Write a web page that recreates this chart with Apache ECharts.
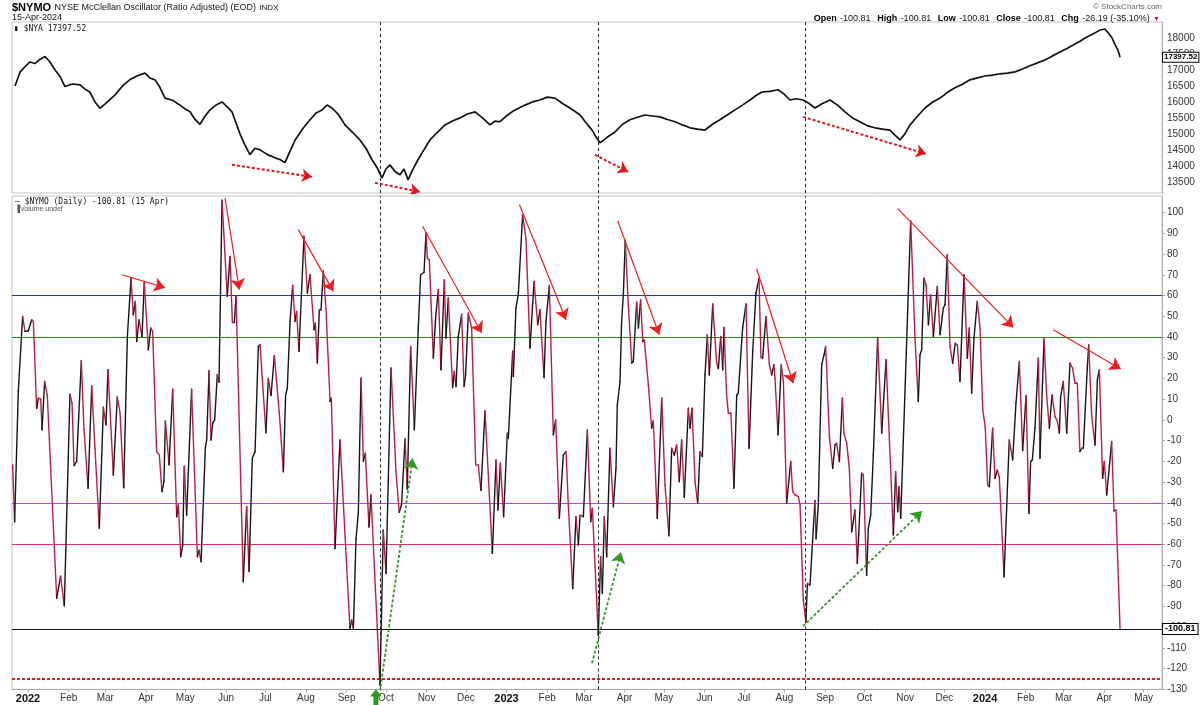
<!DOCTYPE html>
<html><head><meta charset="utf-8">
<script src="https://cdn.jsdelivr.net/npm/echarts/dist/echarts.min.js"></script>
<style>html,body{margin:0;padding:0;background:#fff}#c{width:1200px;height:705px}</style>
</head><body><div id="c"></div>
<script>
// days since 2022-01-01 and NYMO values
const nymoDay = [-11.7,-10.2,-7.4,-4.1,-2.3,0.3,2.8,4.1,6.6,7.9,9.7,10.7,12.7,14.7,21.9,24.9,27.7,32,33.6,35.1,37.1,40.7,42.7,45.8,48.6,51.1,54.4,57.5,59.5,61,65.1,68.1,70.2,73,75.8,78.6,80.3,81.9,82.9,84.7,87,88.7,91.8,93.6,95.1,98.1,100.2,102.2,103.7,104.8,107.6,110.4,113.4,114.7,116.5,118,119.2,121,124.8,129.2,130.4,132,135.3,136.3,138.1,139.6,140.9,142.4,144.4,145.7,148,152,154.1,155.9,157.4,158.7,164.2,166.8,168.6,171.1,173.2,175.7,177,181.5,183.3,185.4,187.9,191.7,194.8,196.5,197.8,199.9,201.9,203.7,204.9,206.7,
210.5,213.1,215.1,218.2,219.2,220.7,222.2,223.5,225.3,227.3,230.4,231.4,234.2,238,245.6,246.9,248.2,250.2,252,254,255.8,257.3,260.1,261.6,268.5,271,273.1,276.9,280.7,283.2,285,287.6,289.3,291.9,294.7,297.7,299.5,302.1,303.6,304.6,306.1,309.2,311,313,315,317.6,318.8,320.6,323.9,325.2,326.5,328.2,330.8,332.6,333.8,335.9,338.4,341.5,343.5,345.5,348.6,354.2,357,358.5,360.3,362.8,365.6,366.4,369.7,370.2,372.2,374,377.3,379.9,382.9,386,388.8,390.5,393.6,395.1,397.7,400.7,402.5,405.3,408.3,410.4,412.2,415.5,418,419.8,
421.1,423.6,426.7,429.2,430.5,435,436.8,438.1,439.6,441.4,443.9,446.5,448.5,449.5,451.6,452.8,454.1,455.6,457.9,460.5,461.7,464.3,465.6,467.3,468.9,470.1,473.2,475.7,477,480,483.4,485.9,488.9,491,493,494.8,496.8,498.6,500.6,503.7,505,506.5,508.8,510.8,512.6,514.4,516.4,518.2,519.7,522.3,525.3,526.6,528.4,529.9,530.9,532.9,534.2,536.2,538.5,540.6,541.8,545.1,547.7,550,552.8,555.3,557.6,559.1,560.4,562.9,565.5,567.3,569,569.8,572.1,574.6,576.2,578.7,581.8,583.3,585.1,587.6,588.9,591.4,593.4,594.5,596.5,600.3,601.1,602.8,605.4,607.2,608.4,609.2,611.2,613.8,615.6,616.8,618.9,621.2,622.4,624.5,626.5,628.3,630.8,632.6,
635.9,637.2,639.7,641,642.8,644.8,648.1,651.2,654.5,660.1,661.8,663.4,664.4,665.7,673.3,676.6,679.1,680.4,681.7,683.4,685,686.8,688.5,690.6,693.6,695.7,698.2,699.5,701.2,703.3,705.3,707.3,708.9,710.9,714,716.5,718,719.8,721.6,724.1,726.2,728.2,730.2,732,733.3,735.8,737.6,739.4,740.9,744.5,748.5,751.1,753.6,756.2,758.7,761.3,763.5,764.8,766.1,768.1,770.7,771.9,775,777,779.1,781.1,783.4,785.2,786.7,787.7,789.7,792.3,794.8,796.8,798.6,800.4,802.4,803.7,805,808,809.1,811.3,813.9,815.7,817.2,819.7,821,822.8,826.6,828.4,829.9,833];
const nymoVal = [-21.7,-49.1,13.7,49.9,42.7,43,48.3,47.5,5.6,10.5,10,-4.8,18.5,12,-86,-75.4,-89.7,12.4,8,-22,-20,28.5,-4.5,-33,16.4,-13.7,-52.3,6.1,-2.4,24.2,-26.6,11.1,3.5,-32.7,40.2,68.4,50.7,57.1,37.8,48.3,40.2,66.5,33.8,44.3,42.7,-15.3,-17,-34.6,-29.8,-0.5,-21.7,14.8,-46.7,-41,-66,-60.4,-22.3,-46,14.8,-66,-62.8,-68.4,-13.2,-9.7,23.7,-9.7,-1.6,0,21.8,18.2,106,59.6,78.9,47,47,59.9,-78.1,-41.9,-73,-18.5,-15.3,35.4,36.2,-6.2,20,11.8,31,3.2,-25,11.8,15.3,47.5,64.9,47.5,52.3,33.1,
88.6,61.2,70,43.5,46.7,27.4,53.1,53,72,53.5,8.9,10.5,-62,-9.7,-100.6,-96.5,-100.6,-57.5,-44.6,20.1,-20,-16.1,-51.7,-36.2,-128,-53.1,-74.1,25,-25,-44.6,-40.6,-9.2,-33.3,35.4,-4.8,44.3,70,71.2,90.2,78.1,77.3,29.8,49.9,62.8,24.2,67.6,39.5,58.8,15.6,23.4,16.1,40.2,51,16.1,21.7,51.5,44.3,-21.7,-21.7,-34,4.3,-64.4,-19.3,-43.5,-20.9,-46.7,-6.4,-8.9,33.1,20.9,54,60.4,99,86.9,34.6,66.8,45.9,53.1,20.4,47.5,64.9,-7.2,0,-47.5,-17,-15.3,-41.9,-81.3,-46.7,-60.4,
-46,-46.7,-4.8,-49.1,-42.7,-104,-66,-83.7,-46.7,-66,-13.7,-41.9,-23.4,7.2,18.5,47.5,60.4,86.5,55.6,27.4,28.2,56.8,44.3,57.9,37.8,38.6,16.9,-4,-0.5,-47.5,10.5,-31.4,-55.9,-13.7,-17,-12.1,-29.8,-9.7,-37.4,5.6,-4,5.6,-29.8,-40.2,-15.3,-17.7,21.7,41.1,21.7,55.9,27.4,24.8,40.2,24.2,44.6,12,3.2,3.2,-33,12,12.9,44.3,55.9,-13.7,33.1,61.2,68.4,30.1,29.8,49.9,26.6,21.7,26.6,20,-7.2,26.6,18.5,-40.2,-20.1,-34.6,-36.2,-37,-41,-87,-97.3,-78.9,-79.7,-38.9,-57.4,-41.1,26.6,31.4,35.4,25,-7.2,-23.4,-12.1,-11.3,-20.1,10.5,-6.4,-11.3,-23.4,-54,-43.5,-69.2,
-25.7,-26.6,-74.9,-52.3,-45.9,-16.9,39.5,-6.4,29,-55.5,-25,-44.3,-32.2,-47.5,95.8,39.5,8.9,31.4,33.8,68.4,65.2,45.9,60.4,40.2,64.4,41.1,54,55.6,79.7,35.4,27.4,37,36.2,18.5,70,29.8,44.3,12.9,39.5,57.2,44.3,5.6,-4,-31.4,-32.2,-4,-28.2,-24.2,-27.4,-75.7,-9.7,-19.3,8,28.2,-14.8,11.8,-45.1,-20.1,-19.3,-4,29.8,-18.5,39.1,12,-4,12,1.6,-0.8,-6.4,11.3,18.5,-6.4,27.4,25,17.7,17.7,-15.3,-13.7,-13.7,25,36.2,2.4,-12.1,19.3,24.2,-28.2,-20.1,-36.2,-10.5,-43.9,-43.5,-100.81];

// NYSE Composite ($NYA), days since 2022-01-01
const nyaDay = [-9.9,-6,-2.3,1.5,5.3,9,13,16.8,20.6,24.4,28.2,33.9,39.7,43.5,47.3,51.1,54.9,60.6,66.4,72.1,77.8,83.5,89.2,93,96.9,100.7,104.5,110.2,115.9,119.8,123.6,127.4,131.2,135,138.8,143.4,148,151.8,155.6,158.6,161.7,165.5,169.3,173.1,177,182.7,188.4,192.2,196,199.8,203.7,209.4,215.1,219.7,224.3,228.1,231.9,236.9,241.8,247.5,253.2,257.8,262.4,266.2,270,273,276.1,279.9,283.8,286.8,289.9,293.7,297.5,302,306.6,312.3,318.1,323.8,329.5,335.2,341,346.7,352.4,356.2,360,364.6,369.2,374.1,379.1,384.8,390.5,396.2,402,407.7,413.4,417.3,421.1,425.6,430.2,433.3,436.3,442,447.8,453.5,459.2,464.9,470.6,476.4,482.1,487.8,493.5,499.2,505,510.7,516.4,522.1,527.8,533.6,539.3,545,550.7,555.3,559.9,566,572.1,576.6,581.2,586.2,591.2,595.8,600.3,606,611.8,617.5,623.2,628.9,634.6,640.4,646.1,651.8,657.5,661.3,665.1,668.9,672.8,678.5,684.2,689.9,695.7,701.4,707.1,712.8,718.5,724.3,730,735.7,741.4,747.2,752.9,758.6,764.3,770,775.7,781.5,787.2,792.9,798.6,802.5,806.3,810.1,813.9,817.7,821.5,824.2,826.9,829.1,831.4,833];
const nyaVal = [16500,16940,17100,17250,17200,17330,17420,17250,17000,16800,16480,16560,16530,16400,16300,16000,15800,16000,16220,16500,16700,16820,16900,16750,16690,16450,16120,16050,15900,15780,15690,15450,15300,15550,15750,15900,16000,15850,15690,15350,15000,14650,14350,14550,14500,14350,14250,14200,14100,14450,14800,15150,15440,15650,15750,15900,15810,15600,15280,15050,14810,14550,14190,13950,13620,13900,14030,13820,13720,13900,13560,13900,14190,14500,14810,15050,15280,15400,15500,15620,15690,15500,15280,15400,15380,15550,15690,15800,15900,16000,16060,16150,16120,15950,15810,15700,15590,15350,15125,14900,14720,14900,15060,15300,15440,15520,15590,15560,15530,15450,15380,15280,15190,15150,15120,15300,15440,15600,15750,15900,16060,16200,16310,16330,16380,16250,16060,16100,16060,15950,15810,15950,16060,15900,15690,15500,15380,15250,15190,15150,15120,14960,14810,15000,15280,15550,15810,15990,16120,16300,16440,16550,16690,16750,16810,16840,16880,16900,16940,17030,17130,17220,17310,17440,17560,17680,17810,17900,18000,18080,18160,18250,18280,18150,18000,17800,17620,17397.52];

const levelValues = [60, 40, -40, -60];
const levelColors = ['#2b2bd0', '#1f8a1f', '#f024f0', '#d8306a'];
const closeLevel = -100.81;
const extremeLevel = -125;
const eventDays = [268.5, 434.8, 592.7];
// [day0, value0, day1, value1]
const redArrows = [[71.7,70,104.5,63.8],[150.3,107,161.2,62.8],[206.2,91.8,232.9,62],[301,93.4,346.1,41.9],[374.8,103.9,410.4,48.3],[449.8,96.1,481.5,41.1],[555.8,72.9,583.7,17.7],[663.4,101.9,751.6,44.6],[782.1,43.5,833.5,24.6]];
const greenArrows = [[268.5,-131,293.4,-18.5],[430.2,-117.4,452.3,-63.8],[591.2,-99.5,681.9,-44]];
const priceArrows = [[155.6,14031,216.6,13656],[264.7,13469,299,13187],[432.5,14344,457.7,13812],[591.2,15531,685,14375]];
const greenMarkerDay = 265.4;

const DAY = 86400000, BASE = Date.UTC(2022, 0, 1);
const T = d => BASE + d * DAY;
const xMin = T(-12.2), xMax = T(865);

const segs = [];
for (let i = 0; i < nymoDay.length - 1; i++) segs.push([T(nymoDay[i]), nymoVal[i], T(nymoDay[i+1]), nymoVal[i+1]]);
const nya = nyaDay.map((d, i) => [T(d), nyaVal[i]]);

const FONT = '"Liberation Sans", Arial, sans-serif';
const boxLabel = { show: true, position: 'end', distance: 1, color: '#000', fontSize: 10, fontWeight: 'bold', fontFamily: FONT,
  backgroundColor: '#fff', borderColor: '#000', borderWidth: 1, padding: [1, 2, 0, 2] };
const arrowItems = list => list.map(a => ({ coords: [[T(a[0]), a[1]], [T(a[2]), a[3]]] }));

const chart = echarts.init(document.getElementById('c'), null, { renderer: 'canvas' });
chart.setOption({
  animation: false,
  backgroundColor: '#fff',
  grid: [
    { left: 12, right: 38, top: 22, height: 171, show: true, borderColor: '#c4c4c4', borderWidth: 1 },
    { left: 12, right: 38, top: 196, height: 493.4, show: true, borderColor: '#c4c4c4', borderWidth: 1 }
  ],
  xAxis: [
    { type: 'time', gridIndex: 0, min: xMin, max: xMax, show: false, splitLine: { show: false } },
    { type: 'time', gridIndex: 1, min: xMin, max: xMax, minInterval: 28 * DAY, maxInterval: 31 * DAY,
      splitLine: { show: false },
      axisLine: { show: true, onZero: false, lineStyle: { color: '#aaa' } },
      axisTick: { show: true, length: 3, lineStyle: { color: '#aaa' } },
      axisLabel: { fontSize: 10, color: '#333', fontFamily: FONT, margin: 4, hideOverlap: false,
        formatter: { year: '{yr|{yyyy}}', month: '{MMM}', day: '', hour: '', minute: '', second: '', millisecond: '' },
        rich: { yr: { fontWeight: 'bold', fontSize: 11, color: '#111', fontFamily: FONT } } } }
  ],
  yAxis: [
    { type: 'value', gridIndex: 0, position: 'right', min: 13150, max: 18500, interval: 50, scale: true,
      splitLine: { show: false },
      axisLine: { show: true, lineStyle: { color: '#aaa', type: 'dotted' } },
      axisTick: { show: false },
      axisLabel: { fontSize: 10, color: '#333', fontFamily: FONT, margin: 5,
        formatter: v => (v % 500 === 0 && v >= 13500 && v <= 18000) ? String(v) : '' } },
    { type: 'value', gridIndex: 1, position: 'right', min: -130, max: 108, interval: 10,
      splitLine: { show: false },
      axisLine: { show: true, lineStyle: { color: '#aaa', type: 'dotted' } },
      axisTick: { show: true, length: 3, lineStyle: { color: '#aaa' } },
      axisLabel: { fontSize: 10, color: '#333', fontFamily: FONT, margin: 5, showMaxLabel: false } }
  ],
  series: [
    { type: 'line', xAxisIndex: 0, yAxisIndex: 0, data: nya, showSymbol: false, symbol: 'none',
      lineStyle: { color: '#111', width: 1.7 }, silent: true, z: 3,
      markLine: { silent: true, symbol: 'none', animation: false,
        data: [
          ...eventDays.map(d => ({ xAxis: T(d), lineStyle: { color: '#222', type: [3, 3], width: 1 }, label: { show: false } })),
          { yAxis: nyaVal[nyaVal.length - 1], lineStyle: { color: 'rgba(255,255,255,0)', width: 1 },
            label: Object.assign({}, boxLabel, { formatter: '17397.52', fontSize: 8, padding: [1, 1, 0, 1] }) }
        ] } },
    { type: 'lines', coordinateSystem: 'cartesian2d', xAxisIndex: 0, yAxisIndex: 0, symbol: ['none', 'arrow'], symbolSize: 10,
      silent: true, z: 5,
      lineStyle: { color: '#e41414', width: 2, type: [3, 2], opacity: 1 },
      data: arrowItems(priceArrows) },
    // horizontal reference levels
    { type: 'lines', coordinateSystem: 'cartesian2d', xAxisIndex: 1, yAxisIndex: 1, symbol: 'none', silent: true, z: 2,
      data: [
        ...levelValues.map((v, i) => ({ coords: [[xMin, v], [xMax, v]], lineStyle: { color: levelColors[i], width: 1.2, opacity: 1 } })),
        { coords: [[xMin, extremeLevel], [xMax, extremeLevel]], lineStyle: { color: '#d81e1e', width: 2, type: [3, 2], opacity: 1 } }
      ] },
    { type: 'custom', xAxisIndex: 1, yAxisIndex: 1, data: segs, clip: true, silent: true, z: 4,
      encode: { x: [0, 2], y: [1, 3] },
      renderItem: (params, api) => {
        const p0 = api.coord([api.value(0), api.value(1)]);
        const p1 = api.coord([api.value(2), api.value(3)]);
        const up = api.value(3) > api.value(1);
        return { type: 'line', shape: { x1: p0[0], y1: p0[1], x2: p1[0], y2: p1[1] },
          style: { stroke: up ? '#151515' : '#c21a44', lineWidth: 1.4, lineCap: 'round' } };
      },
      markLine: { silent: true, symbol: 'none', animation: false,
        data: [
          { yAxis: closeLevel, lineStyle: { color: '#111', width: 1, type: 'solid' }, label: Object.assign({}, boxLabel, { formatter: '-100.81', fontSize: 9 }) },
          ...eventDays.map(d => ({ xAxis: T(d), lineStyle: { color: '#222', type: [3, 3], width: 1 }, label: { show: false } }))
        ] },
      markPoint: { silent: true, animation: false,
        data: [{ coord: [T(greenMarkerDay), -130], symbol: 'path://M6,0 L12,7 L8.5,7 L8.5,16 L3.5,16 L3.5,7 L0,7 Z',
          symbolSize: [12, 16], symbolOffset: [0, 8], itemStyle: { color: '#2a9a1a' }, label: { show: false } }] } },
    { type: 'lines', coordinateSystem: 'cartesian2d', xAxisIndex: 1, yAxisIndex: 1, symbol: ['none', 'arrow'], symbolSize: 11,
      silent: true, z: 6, lineStyle: { color: '#ee1c1c', width: 1.2, opacity: 1 },
      data: arrowItems(redArrows) },
    { type: 'lines', coordinateSystem: 'cartesian2d', xAxisIndex: 1, yAxisIndex: 1, symbol: ['none', 'arrow'], symbolSize: 11,
      silent: true, z: 6, lineStyle: { color: '#2f9a1c', width: 1.8, type: [3, 2], opacity: 1 },
      data: arrowItems(greenArrows) }
  ],
  graphic: [
    { type: 'text', left: 12, top: 2, style: { text: '{a|$NYMO} {b|NYSE McClellan Oscillator (Ratio Adjusted) (EOD)} {c|INDX}',
      rich: { a: { font: 'bold 11px ' + FONT, fill: '#000' }, b: { font: '9px ' + FONT, fill: '#111' }, c: { font: '8px ' + FONT, fill: '#111' } } } },
    { type: 'text', left: 12, top: 13, style: { text: '15-Apr-2024', font: '9px ' + FONT, fill: '#111' } },
    { type: 'text', left: 14, top: 25, style: { text: '\u25AE $NYA 17397.52', font: '8px "DejaVu Sans Mono", monospace', fill: '#111' } },
    { type: 'text', right: 38, top: 3, style: { text: '\u00A9 StockCharts.com', font: '8px ' + FONT, fill: '#666' } },
    { type: 'text', right: 40, top: 13, style: {
      text: '{k|Open} {v|-100.81}  {k|High} {v|-100.81}  {k|Low} {v|-100.81}  {k|Close} {v|-100.81}  {k|Chg} {v|-26.19 (-35.10%)} {r|\u25BC}',
      rich: { k: { font: 'bold 9px ' + FONT, fill: '#000' }, v: { font: '9px ' + FONT, fill: '#111' }, r: { font: '7px ' + FONT, fill: '#d01030' } } } },
    { type: 'text', left: 15, top: 198, style: { text: '\u2014 $NYMO (Daily) -100.81 (15 Apr)', font: '8px "DejaVu Sans Mono", monospace', fill: '#111' } },
    { type: 'text', left: 15, top: 206, style: { text: '\u2590Volume undef', font: '7px ' + FONT, fill: '#555' } }
  ]
});
</script></body></html>
